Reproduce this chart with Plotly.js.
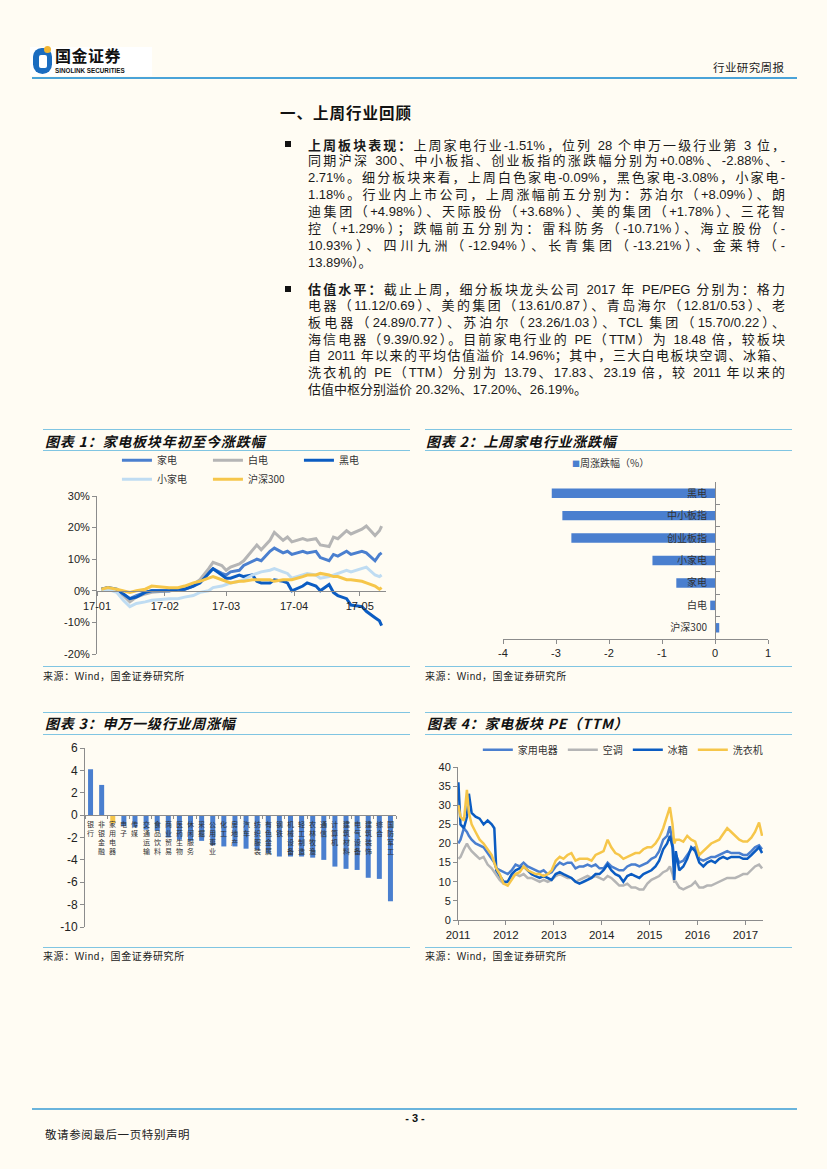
<!DOCTYPE html>
<html><head><meta charset="utf-8">
<script src="https://cdn.plot.ly/plotly-3.0.1.min.js"></script>
<style>
html,body{margin:0;padding:0;background:#fffcf3;}
#page{position:relative;width:827px;height:1169px;background:#fffcf3;overflow:hidden;font-family:"Liberation Sans","Noto Sans CJK SC",sans-serif;color:#1a1a1a;}
.hl{position:absolute;height:0;border-top:1.5px solid #80c5e2;}
.ln{position:absolute;left:308px;width:477px;text-align:justify;text-align-last:justify;font-size:13px;line-height:17px;height:17px;white-space:normal;}
.ln.last{text-align-last:left;}
.sq{position:absolute;width:6px;height:6px;background:#111;left:285px;}
.ct{position:absolute;font-family:"Noto Sans CJK SC",sans-serif;font-size:14px;font-weight:bold;font-style:italic;letter-spacing:0.8px;line-height:16px;color:#111;}
.src{position:absolute;font-size:10px;letter-spacing:0.6px;line-height:12px;color:#222;}
.chart{position:absolute;}
b{font-family:"Noto Sans CJK SC",sans-serif;}
</style></head>
<body><div id="page">
<!-- header -->
<div style="position:absolute;left:30px;top:47px;width:122px;height:29px;background:#ffffff;"></div>
<div style="position:absolute;left:33px;top:48px;width:19px;height:26px;border-radius:9px 9px 10px 10px;background:#1a6cc0;"></div>
<div style="position:absolute;left:39px;top:55px;width:8px;height:13px;border-radius:2px;background:#ffffff;"></div>
<div style="position:absolute;left:44px;top:46px;width:7px;height:7px;border-radius:50%;background:#f2b531;"></div>
<div style="position:absolute;left:55px;top:47px;font-family:'Noto Sans CJK SC';font-weight:bold;font-size:16px;line-height:17px;letter-spacing:0.5px;color:#111;">国金证券</div>
<div style="position:absolute;left:55px;top:67px;font-family:'Liberation Sans';font-weight:bold;font-size:6.3px;line-height:7px;color:#111;">SINOLINK SECURITIES</div>
<div style="position:absolute;left:713px;top:60px;font-family:'Noto Sans CJK SC';font-size:11.5px;line-height:14px;letter-spacing:0.4px;color:#222;">行业研究周报</div>
<div style="position:absolute;left:32px;top:77px;width:765px;height:2px;background:#4aa3d8;"></div>

<!-- section title -->
<div style="position:absolute;left:280px;top:102px;font-family:'Noto Sans CJK SC';font-weight:bold;font-size:15.5px;line-height:20px;letter-spacing:1px;color:#111;">一、上周行业回顾</div>

<div class="sq" style="top:141px;"></div>
<div class="ln" style="top:135.5px;"><b>上周板块表现：</b>上周家电行业-1.51%，位列 28 个申万一级行业第 3 位，</div>
<div class="ln" style="top:152.4px;">同期沪深 300、中小板指、创业板指的涨跌幅分别为+0.08%、-2.88%、-</div>
<div class="ln" style="top:169.3px;">2.71%。细分板块来看，上周白色家电-0.09%，黑色家电-3.08%，小家电-</div>
<div class="ln" style="top:186.2px;">1.18%。行业内上市公司，上周涨幅前五分别为：苏泊尔（+8.09%）、朗</div>
<div class="ln" style="top:203.1px;">迪集团（+4.98%）、天际股份（+3.68%）、美的集团（+1.78%）、三花智</div>
<div class="ln" style="top:220px;">控（+1.29%）；跌幅前五分别为：雷科防务（-10.71%）、海立股份（-</div>
<div class="ln" style="top:236.9px;">10.93%）、四川九洲（-12.94%）、长青集团（-13.21%）、金莱特（-</div>
<div class="ln last" style="top:253.8px;">13.89%）。</div>

<div class="sq" style="top:285.5px;"></div>
<div class="ln" style="top:279.8px;"><b>估值水平：</b>截止上周，细分板块龙头公司 2017 年 PE/PEG 分别为：格力</div>
<div class="ln" style="top:296.7px;">电器（11.12/0.69）、美的集团（13.61/0.87）、青岛海尔（12.81/0.53）、老</div>
<div class="ln" style="top:313.6px;">板电器（24.89/0.77）、苏泊尔（23.26/1.03）、TCL 集团（15.70/0.22）、</div>
<div class="ln" style="top:330.5px;">海信电器（9.39/0.92）。目前家电行业的 PE（TTM）为 18.48 倍，较板块</div>
<div class="ln" style="top:347.4px;">自 2011 年以来的平均估值溢价 14.96%；其中，三大白电板块空调、冰箱、</div>
<div class="ln" style="top:364.3px;">洗衣机的 PE（TTM）分别为 13.79、17.83、23.19 倍，较 2011 年以来的</div>
<div class="ln last" style="top:381.2px;">估值中枢分别溢价 20.32%、17.20%、26.19%。</div>

<!-- chart frames -->
<div class="hl" style="left:43px;top:429px;width:367px;"></div>
<div class="hl" style="left:43px;top:450px;width:367px;"></div>
<div class="ct" style="left:45px;top:433px;">图表 1：家电板块年初至今涨跌幅</div>
<div class="hl" style="left:43px;top:666px;width:367px;"></div>
<div class="src" style="left:43px;top:671px;">来源：Wind，国金证券研究所</div>

<div class="hl" style="left:425px;top:429px;width:367px;"></div>
<div class="hl" style="left:425px;top:450px;width:367px;"></div>
<div class="ct" style="left:426px;top:433px;">图表 2：上周家电行业涨跌幅</div>
<div class="hl" style="left:425px;top:666px;width:367px;"></div>
<div class="src" style="left:425px;top:671px;">来源：Wind，国金证券研究所</div>

<div class="hl" style="left:43px;top:712px;width:367px;"></div>
<div class="hl" style="left:43px;top:734px;width:367px;"></div>
<div class="ct" style="left:45px;top:715px;">图表 3：申万一级行业周涨幅</div>
<div class="hl" style="left:43px;top:947px;width:367px;"></div>
<div class="src" style="left:43px;top:951px;">来源：Wind，国金证券研究所</div>

<div class="hl" style="left:425px;top:712px;width:367px;"></div>
<div class="hl" style="left:425px;top:734px;width:367px;"></div>
<div class="ct" style="left:427px;top:715px;">图表 4：家电板块 PE（TTM）</div>
<div class="hl" style="left:425px;top:947px;width:367px;"></div>
<div class="src" style="left:425px;top:951px;">来源：Wind，国金证券研究所</div>

<div id="c1" class="chart" style="left:40px;top:452px;width:372px;height:212px;"></div>
<div id="c2" class="chart" style="left:420px;top:452px;width:375px;height:212px;"></div>
<div id="c3" class="chart" style="left:40px;top:736px;width:372px;height:205px;"></div>
<div id="c4" class="chart" style="left:420px;top:736px;width:375px;height:205px;"></div>

<!-- footer -->
<div style="position:absolute;left:32px;top:1108px;width:765px;height:2px;background:#6ab4dc;"></div>
<div style="position:absolute;left:400px;top:1111px;width:30px;text-align:center;font-family:'Liberation Sans';font-weight:bold;font-size:11px;line-height:14px;color:#111;">- 3 -</div>
<div style="position:absolute;left:45px;top:1127px;font-family:'Noto Sans CJK SC';font-size:11.5px;line-height:14px;letter-spacing:0.6px;color:#222;">敬请参阅最后一页特别声明</div>
</div>

<script>
// ---------- Chart 1 data ----------
var dates1 = ['2017-01-03','2017-01-06','2017-01-10','2017-01-13','2017-01-16','2017-01-19','2017-01-23','2017-01-26','2017-02-03','2017-02-07','2017-02-10','2017-02-14','2017-02-17','2017-02-21','2017-02-23','2017-02-27','2017-03-01','2017-03-03','2017-03-07','2017-03-09','2017-03-13','2017-03-15','2017-03-17','2017-03-21','2017-03-23','2017-03-27','2017-03-29','2017-03-31','2017-04-05','2017-04-07','2017-04-11','2017-04-13','2017-04-17','2017-04-19','2017-04-21','2017-04-25','2017-04-27','2017-05-02','2017-05-04','2017-05-08','2017-05-10','2017-05-11'];
var jiadian1 = [0.5,0.8,0,-1,-2.5,-1.5,-0.5,0,0,0.3,0.5,1.5,3,6,7,5.5,5,6,6.5,8,9.5,10,9.5,12.5,13.5,12,12.5,11.5,12.5,12,12.5,10.5,9.5,11.5,11,12.5,11.5,12.5,12,9.5,11.5,12];
var baidian1 = [0.5,1,0,-1.5,-3.5,-2,-1,-0.5,0,0.5,1,2,3.5,7,9,8,6.5,7.5,8.5,9.5,13,14.5,13,16,18.5,16,17,15.5,16.5,16,16.5,14.5,14,17,16.5,19,18,19.5,20.5,17.5,19,20.5];
var heidian1 = [0.5,1,0.5,-1,-2.5,-2,-0.5,0,0,0.5,0.5,1.5,2.5,5.5,7,5,4,4,5,4.5,5,3,2.5,2.5,3.5,3,2.5,0,1.5,2.5,1.5,0,2,-0.5,-1.5,-2.5,-4.5,-5,-6.5,-8.5,-9.5,-11];
var xiaojiadian1 = [0,0.5,-0.5,-3,-5,-4,-3.5,-3,-2.5,-2.5,-2,-1.5,-0.5,0,1,1.5,2,2.5,3,3.5,5,5.5,6,6.5,7,6,5.5,4,5,5.5,5,4,4.5,5,5.5,6.5,6,7,7.5,5,4.5,5];
var hs300_1 = [0.5,1,0.5,0,-0.5,0,0.5,1.5,1,1,1.5,2.5,3,4,4.5,3.5,3,2.5,3,3,3.5,3.5,3.5,3.5,3,3.5,3.5,3.5,4.5,5,5,5.5,5,4.5,4.5,3.5,3.5,3,2.5,1.5,0.5,1];
var names1 = ['家电','白电','黑电','小家电','沪深300'];
var yTicks1 = [-20,-10,0,10,20,30];
var yTickText1 = ['-20%','-10%','0%','10%','20%','30%'];

// ---------- Chart 2 data ----------
var cats2 = ['黑电','中小板指','创业板指','小家电','家电','白电','沪深300'];
var vals2 = [-3.08,-2.88,-2.71,-1.18,-0.73,-0.09,0.08];
var xTicks2 = [-4,-3,-2,-1,0,1];
var xTickText2 = ['-4','-3','-2','-1','0','1'];

// ---------- Chart 3 data ----------
var cats3 = ['银行','非银金融','家用电器','电子','传媒','交通运输','食品饮料','商业贸易','医药生物','休闲服务','采掘','公用事业','化工','房地产','汽车','纺织服装','有色金属','钢铁','机械设备','轻工制造','农林牧渔','通信','计算机','建筑材料','电气设备','建筑装饰','综合','国防军工'];
var vals3 = [4.1,2.7,-0.73,-1.0,-1.1,-1.3,-1.4,-2.0,-2.2,-2.3,-2.3,-2.7,-2.8,-2.8,-3.0,-3.1,-3.4,-3.7,-3.7,-3.7,-3.8,-4.0,-4.6,-4.8,-4.9,-5.6,-5.7,-7.7];
var highlight3 = '家用电器';
var yTicks3 = [-10,-8,-6,-4,-2,0,2,4,6];
var yTickText3 = ['-10','-8','-6','-4','-2','0','2','4','6'];

// ---------- Chart 4 data ----------
var dates4 = ['2011-01-04','2011-01-20','2011-02-15','2011-03-10','2011-03-25','2011-04-15','2011-05-15','2011-06-15','2011-07-15','2011-08-15','2011-09-15','2011-10-05','2011-10-20','2011-11-15','2011-12-15',
'2012-01-15','2012-02-15','2012-03-15','2012-04-15','2012-05-15','2012-06-15','2012-07-15','2012-08-15','2012-09-15','2012-10-15','2012-11-15','2012-12-15',
'2013-01-15','2013-02-15','2013-03-15','2013-04-15','2013-05-15','2013-06-15','2013-07-15','2013-08-15','2013-09-15','2013-10-15','2013-11-15','2013-12-15',
'2014-01-15','2014-02-15','2014-03-15','2014-04-15','2014-05-15','2014-06-15','2014-07-15','2014-08-15','2014-09-15','2014-10-15','2014-11-15','2014-12-15',
'2015-01-15','2015-02-15','2015-03-15','2015-04-15','2015-05-15','2015-06-05','2015-06-25','2015-07-08','2015-07-20','2015-08-15','2015-09-15','2015-10-15','2015-11-15','2015-12-15',
'2016-01-15','2016-02-15','2016-03-15','2016-04-15','2016-05-15','2016-06-15','2016-07-15','2016-08-15','2016-09-15','2016-10-15','2016-11-15','2016-12-15',
'2017-01-15','2017-02-15','2017-03-15','2017-04-15','2017-05-08'];
var jydq4 = [20,21,24,23,22,21,20,19.5,19,17.5,16,15,13.5,13,12.5,
12,13,14.5,14,15,14,13.5,13,12.5,13,12,12.5,
14,15,14.5,15,15,13.5,14,14,14.5,14,14.5,13.5,
13.5,15,14,13.5,13,13,14,14.5,14.5,14,14.5,15,
16,16.5,18,21,22,24.5,20,16,17,15,15.5,17,18.5,19,
16,15.5,16,16.5,16.5,17,17.5,18,17.5,17.5,17.5,17,
17,18,19,19.5,18.5];
var kt4 = [16,16.5,18.5,20,19,18,17,16,16.5,14.5,13.5,12.5,11.5,10.5,9.5,
10,11.5,12,11.5,12,11,11,10.5,10,10.5,10,10.5,
11.5,12,11.5,11,11,10,10.5,11,11.5,11,11.5,11,
10.5,11.5,11,10,9,9,9.5,8.5,8.5,8,8,9.5,
10.5,11,11.5,12.5,13,14,12,10,10,8.5,8,8.5,9,10,
8.5,8.5,9,9,9.5,10,10.5,11,11,11,11.5,12,
12,13,14,14.5,13.5];
var bx4 = [36,25,24,27,33,28,27,26.5,25,26,25,24,13,11.5,10,
10,12,13,13.5,14,13,12,11.5,11,11.5,11,10.5,
12,12.5,12,11.5,11,10,9.5,10,10.5,11,12,12,
13,14.5,13,12,11.5,10,11.5,12,11.5,11,12,12.5,
13,14,15.5,18.5,20,22,19,10.5,18,13,14,16,19,18,
15,14,15,15.5,15,16,16.5,16,16.5,16.5,16.5,16,
16,17,18,19,17.5];
var xyj4 = [30,27,26,34,28,25,23,21,20,18.5,17,15,13.5,12,9.5,
9,10.5,12,12.5,14,13,12.5,12,12,11.5,12,13,
15.5,16.5,16,17,17.5,15.5,16,16,16,15.5,17,17.5,
18,21,19,17.5,17,16,16.5,17,17.5,17.5,18.5,19,
19,20,21.5,24,27,29.5,25,20,21,21,20.5,22,21,20.5,
17,18,19,20,20.5,21,22.5,24,23,22,21,20.5,
20.5,21.5,23,25.5,22];
var names4 = ['家用电器','空调','冰箱','洗衣机'];

// ---------- styles ----------
var C_MID = '#4a7fcf', C_GRAY = '#b5b5b5', C_DARK = '#0b5cc2', C_LIGHT = '#bfdcf2', C_GOLD = '#f6c64a';
var AX = '#8c8c8c';
var FONT = 'Liberation Sans, Noto Sans CJK SC, sans-serif';
var CJK = 'Noto Sans CJK SC, sans-serif';
var cfg = {staticPlot:true, displayModeBar:false};

// Chart 1
var series1 = [jiadian1, baidian1, heidian1, xiaojiadian1, hs300_1];
var colors1 = [C_MID, C_GRAY, C_DARK, C_LIGHT, C_GOLD];
var tr1 = series1.map(function(s,i){
  return {x:dates1, y:s, type:'scatter', mode:'lines', name:names1[i], line:{color:colors1[i], width:3}};
});
Plotly.newPlot('c1', tr1, {
  width:372, height:212, margin:{l:56.7, r:26.3, t:44, b:10, autoexpand:false},
  paper_bgcolor:'rgba(0,0,0,0)', plot_bgcolor:'rgba(0,0,0,0)',
  font:{family:FONT, size:11, color:'#222'},
  xaxis:{type:'date', range:['2017-01-01','2017-05-13'], dtick:'M1', tick0:'2017-01-01', tickformat:'%y-%m',
    anchor:'free', position:0.4, showline:true, linecolor:AX, linewidth:1.5, ticks:'outside', ticklen:4, tickcolor:AX,
    showgrid:false, zeroline:false, tickfont:{size:11}},
  yaxis:{range:[-20,30], tickvals:yTicks1, ticktext:yTickText1, showline:true, linecolor:AX, ticks:'outside', ticklen:4, tickcolor:AX,
    showgrid:false, zeroline:false, tickfont:{size:11}},
  legend:{orientation:'h', x:0.069, xanchor:'left', y:1.166, yanchor:'middle', entrywidth:46, font:{size:10, family:CJK, color:'#333'}, bgcolor:'rgba(0,0,0,0)'},
  showlegend:true
}, cfg);

// Chart 2
Plotly.newPlot('c2', [{
  type:'bar', orientation:'h', x:vals2, y:cats2, marker:{color:C_MID}, showlegend:false
}], {
  width:375, height:212, margin:{l:82.7, r:27.3, t:30, b:25, autoexpand:false},
  paper_bgcolor:'rgba(0,0,0,0)', plot_bgcolor:'rgba(0,0,0,0)',
  font:{family:FONT, size:11, color:'#222'},
  bargap:0.58,
  xaxis:{range:[-4,1], tickvals:xTicks2, ticktext:xTickText2, showline:true, linecolor:AX, ticks:'outside', ticklen:4, tickcolor:AX,
    showgrid:false, zeroline:false, tickfont:{size:11}},
  yaxis:{type:'category', autorange:'reversed', anchor:'free', position:0.8, showline:true, linecolor:AX, ticks:'inside', ticklen:4, tickcolor:AX,
    tickson:'boundaries', showgrid:false, zeroline:false, tickfont:{size:10, family:CJK, color:'#333'}, ticklabelstandoff:6},
  annotations:[{xref:'paper', yref:'paper', x:0.405, y:1.123, xanchor:'center', yanchor:'middle', showarrow:false,
    text:'<span style="color:'+C_MID+';font-size:8px">■</span>周涨跌幅（%）', font:{size:10, family:CJK, color:'#333'}}]
}, cfg);

// Chart 3
var colors3 = cats3.map(function(c){ return c === highlight3 ? C_GOLD : C_MID; });
var ann3 = cats3.map(function(c){
  return {x:c, y:0, xref:'x', yref:'y', text:c.split('').join('<br>'), showarrow:false, yanchor:'top', yshift:-2,
    font:{size:7, family:CJK, color:'#333'}};
});
Plotly.newPlot('c3', [{
  type:'bar', x:cats3, y:vals3, marker:{color:colors3}, showlegend:false
}], {
  width:372, height:205, margin:{l:45, r:16, t:12, b:14, autoexpand:false},
  paper_bgcolor:'rgba(0,0,0,0)', plot_bgcolor:'rgba(0,0,0,0)',
  font:{family:FONT, size:12, color:'#222'},
  bargap:0.55,
  xaxis:{type:'category', anchor:'free', position:0.625, showticklabels:false, ticks:'outside', ticklen:3, tickcolor:AX, tickson:'boundaries',
    showline:true, linecolor:AX, showgrid:false, zeroline:false},
  yaxis:{range:[-10,6], tickvals:yTicks3, ticktext:yTickText3, showline:true, linecolor:AX, ticks:'outside', ticklen:4, tickcolor:AX,
    showgrid:false, zeroline:false, tickfont:{size:12}},
  annotations:ann3
}, cfg);

// Chart 4
var series4 = [jydq4, kt4, bx4, xyj4];
var colors4 = [C_MID, C_GRAY, C_DARK, C_GOLD];
var tr4 = series4.map(function(s,i){
  return {x:dates4, y:s, type:'scatter', mode:'lines', name:names4[i], line:{color:colors4[i], width:2.5}};
});
Plotly.newPlot('c4', tr4, {
  width:375, height:205, margin:{l:38.3, r:32.1, t:30.7, b:21, autoexpand:false},
  paper_bgcolor:'rgba(0,0,0,0)', plot_bgcolor:'rgba(0,0,0,0)',
  font:{family:FONT, size:11, color:'#222'},
  xaxis:{type:'date', range:['2011-01-01','2017-05-15'], dtick:'M12', tick0:'2011-01-01', tickformat:'%Y',
    showline:true, linecolor:AX, ticks:'outside', ticklen:4, tickcolor:AX, showgrid:false, zeroline:false, tickfont:{size:11.5}},
  yaxis:{range:[0,40], dtick:5, showline:true, linecolor:AX, ticks:'outside', ticklen:4, tickcolor:AX,
    showgrid:false, zeroline:false, tickfont:{size:11}},
  legend:{orientation:'h', x:0.065, xanchor:'left', y:1.1135, yanchor:'middle', font:{size:10, family:CJK, color:'#333'}, bgcolor:'rgba(0,0,0,0)'},
  showlegend:true
}, cfg);
</script>
</body></html>
